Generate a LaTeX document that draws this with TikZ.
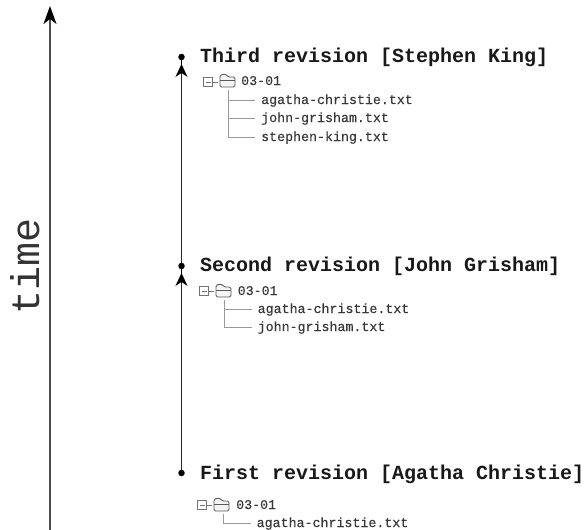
\documentclass[tikz,border=0pt]{standalone}
\usepackage{fontspec}
\setmonofont{Liberation Mono}
\newfontfamily\filefont[FakeBold=0.25]{Liberation Mono}
\usetikzlibrary{arrows.meta}
\definecolor{treeline}{gray}{0.6}
\definecolor{filetext}{gray}{0.22}
\tikzset{
  title/.style={anchor=base west,inner sep=0pt,font=\ttfamily\bfseries\fontsize{20}{20}\selectfont,text=black!90},
  file/.style={anchor=base west,inner sep=0pt,font=\filefont\fontsize{13.3}{13.3}\selectfont,text=filetext},
  rev/.style={circle,fill=black,inner sep=0pt,minimum size=6.5pt},
  axis/.style={draw=black!70,line width=1.5pt,-{Stealth[length=18pt,width=13pt,inset=5pt,black]}},
  revarrow/.style={draw=black!85,line width=1.5pt,shorten >=3.5pt,-{Stealth[length=13pt,width=12pt,inset=4pt,black]}},
  stem/.style={draw=black,line width=1pt},
  tree/.style={draw=treeline,line width=0.6pt},
  plusbox/.style={draw=black!55,line width=0.8pt,minimum size=8.5pt,inner sep=0pt},
  folder/.style={draw=black!65,line width=0.9pt,fill=black!4,rounded corners=1.5pt}
}
\newcommand{\foldericon}[2]{%
  \draw[folder] (#1-8,#2+6) -- (#1-8,#2-6) -- (#1-2,#2-7) -- (#1,#2-4) -- (#1+7,#2-4) -- (#1+7,#2+6) -- cycle;
  \draw[folder] (#1-8,#2-1) -- (#1+7,#2-1);}
\newcommand{\boxmark}[3]{%
  \node[plusbox] (#1) at (#2,#3) {};
  \draw[black!55,line width=0.8pt] (#2-2.5,#3) -- (#2+2.5,#3) (#2+5,#3) -- (#2+10,#3);}
\begin{document}
\begin{tikzpicture}[x=1pt,y=-1pt]
\useasboundingbox (0,0) rectangle (587,530);
% time axis
\coordinate (tb) at (50,530);
\coordinate (tt) at (50,6);
\draw[axis] (tb) -- (tt);
\node[rotate=90,inner sep=0pt,font=\ttfamily\fontsize{40}{40}\selectfont,text=black!80] (time) at (25,266) {time};
% revisions
\node[rev] (r3) at (181.5,57) {};
\node[rev] (r2) at (181.5,266) {};
\node[rev] (r1) at (181.5,473) {};
\draw[stem] (r3) -- (r2);
\draw[stem] (r2) -- (r1);
\draw[revarrow] (r1) -- (r2);
\draw[revarrow] (r2) -- (r3);
\node[title] (t3) at (200,62) {Third revision [Stephen King]};
\node[title] (t2) at (200,271) {Second revision [John Grisham]};
\node[title] (t1) at (200,479) {First revision [Agatha Christie]};
% third tree
\boxmark{b3}{208}{82}
\foldericon{228}{81}
\coordinate (c3) at (228,90);
\node[file] (d3) at (241,85) {03-01};
\node[file] (f3a) at (261,104) {agatha-christie.txt};
\node[file] (f3b) at (261,122) {john-grisham.txt};
\node[file] (f3c) at (261,141) {stephen-king.txt};
\draw[tree] (c3) |- ([xshift=-6pt]f3c.west);
\draw[tree] (c3 |- f3a.west) -- ([xshift=-6pt]f3a.west);
\draw[tree] (c3 |- f3b.west) -- ([xshift=-6pt]f3b.west);
% second tree
\boxmark{b2}{204}{291}
\foldericon{224}{291}
\coordinate (c2) at (224,300);
\node[file] (d2) at (237.5,295) {03-01};
\node[file] (f2a) at (257.5,313) {agatha-christie.txt};
\node[file] (f2b) at (257.5,331) {john-grisham.txt};
\draw[tree] (c2) |- ([xshift=-6pt]f2b.west);
\draw[tree] (c2 |- f2a.west) -- ([xshift=-6pt]f2a.west);
% first tree
\boxmark{b1}{202}{505}
\foldericon{222}{505}
\coordinate (c1) at (223,514);
\node[file] (d1) at (236,509) {03-01};
\node[file] (f1a) at (256.5,527) {agatha-christie.txt};
\draw[tree] (c1) |- ([xshift=-6pt]f1a.west);
\end{tikzpicture}
\end{document}
